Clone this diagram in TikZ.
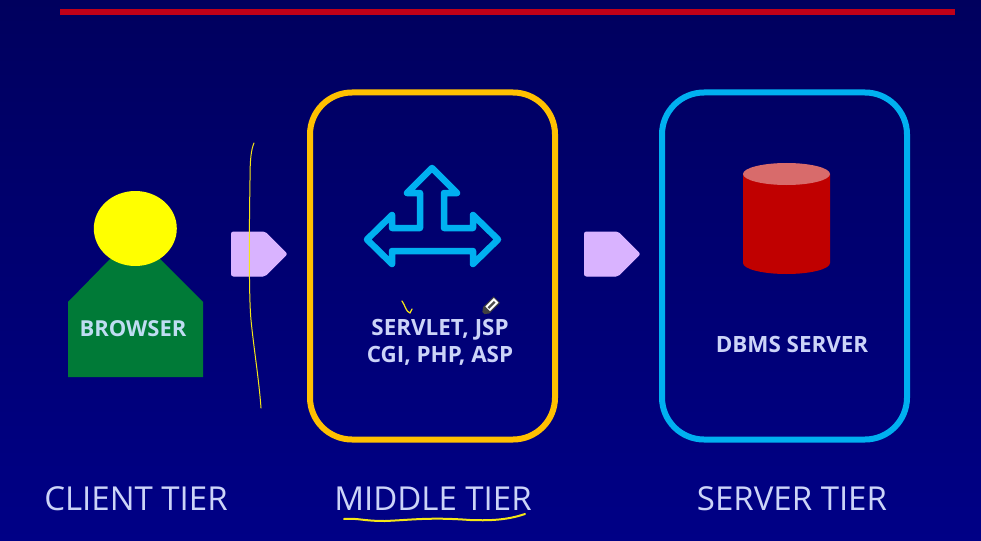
\documentclass[tikz,border=0pt]{standalone}
\usepackage{fontspec}
\setmainfont{Open Sans}
\usetikzlibrary{shapes.geometric}
\definecolor{navytop}{HTML}{00005E}
\definecolor{navybot}{HTML}{000086}
\definecolor{orangebox}{HTML}{FFC000}
\definecolor{cyanbox}{HTML}{00B0F0}
\definecolor{lilac}{HTML}{D9B3FF}
\definecolor{greenbody}{HTML}{007A37}
\definecolor{labelblue}{HTML}{CCD4F8}
\definecolor{browserblue}{HTML}{BFDDF2}
\definecolor{redbar}{HTML}{C00018}
\definecolor{redcyl}{HTML}{C00000}
\definecolor{redtop}{HTML}{D86B6B}
\definecolor{ink}{HTML}{F5E616}
\definecolor{headyellow}{HTML}{FFFF00}
\tikzset{
  tierbox/.style={line width=6pt,rounded corners=42pt},
  pentagonarrow/.style={fill=lilac,draw=lilac,line width=1pt,rounded corners=2pt},
  boldlabel/.style={text=labelblue,font=\bfseries\fontsize{22.4}{27}\selectfont,align=center,inner sep=0pt},
  tierlabel/.style={text=labelblue,font=\fontsize{33}{36}\selectfont,inner sep=0pt},
  inkline/.style={draw=ink,line cap=round,line join=round},
}
\begin{document}
\begin{tikzpicture}[x=1pt,y=-1pt]
\useasboundingbox (0,0) rectangle (981,540);
\shade[top color=navytop,bottom color=navybot] (0,0) rectangle (981,540);
% top rule
\fill[redbar] (60,9) rectangle (955,15);
% client
\fill[greenbody] (68,302) -- (110,259) -- (160,259) -- (203,302) -- (203,377) -- (68,377) -- cycle;
\fill[headyellow] (135.3,228.5) ellipse [x radius=41.5,y radius=37.5];
\node[boldlabel,text=browserblue,font=\bfseries\fontsize{22}{27}\selectfont] (browser) at (133,328.5) {BROWSER};
% arrows
\draw[pentagonarrow] (231.5,232) -- (265,232) -- (287,254) -- (265,276) -- (231.5,276) -- cycle;
\draw[pentagonarrow] (584.5,232) -- (618,232) -- (640,254) -- (618,276) -- (584.5,276) -- cycle;
% tier boxes
\draw[tierbox,orangebox] (310,92.5) rectangle (555,439.5);
\draw[tierbox,cyanbox] (662,92.5) rectangle (907,439.5);
% three-way arrow icon
\draw[cyanbox,line width=6.5pt,line join=round]
  (432,168) -- (457,193) -- (444,193) -- (444,228) -- (473,228) -- (473,215) -- (498,239.5)
  -- (473,264) -- (473,251) -- (392,251) -- (392,264) -- (367,239.5) -- (392,215)
  -- (392,228) -- (420,228) -- (420,193) -- (407,193) -- cycle;
\node[boldlabel] (mid) at (440,342) {SERVLET, JSP\\CGI, PHP, ASP};
% cylinder
\fill[redcyl] (743,174) -- (743,263) arc[start angle=180,end angle=360,x radius=43.5,y radius=-11] -- (830,174) -- cycle;
\fill[redtop] (786.5,174) ellipse [x radius=43.5,y radius=11];
\node[boldlabel] (dbms) at (792,344) {DBMS SERVER};
% tier captions
\node[tierlabel] (client) at (136,499) {CLIENT TIER};
\node[tierlabel] (middle) at (433,499) {MIDDLE TIER};
\node[tierlabel] (server) at (792,499) {SERVER TIER};
% pen marks
\draw[inkline,line width=1pt] (254,143) .. controls (251,150) and (250,160) .. (250,180)
  .. controls (249,240) and (249,300) .. (251,320) .. controls (254,350) and (259,380) .. (261,408);
\draw[inkline,line width=1.2pt] (402,301) .. controls (405,305) and (406,312) .. (410,313) -- (412,309);
\draw[inkline,line width=2pt] (344,519) .. controls (360,518) and (362,521) .. (385,521)
  .. controls (410,520) and (430,517) .. (470,520) .. controls (495,521) and (510,519) .. (525,514);
% pen cursor
\begin{scope}[shift={(490.5,306)},rotate=-45]
\fill[black!75] (-4.5,-9) rectangle (4.5,6) -- (4.5,6) -- (1.5,10) -- (-1.5,10) -- (-4.5,6) -- cycle;
\fill[white] (-3.3,-8) rectangle (3.3,4);
\fill[black!70] (-1.2,-6) rectangle (1.2,3);
\end{scope}
\end{tikzpicture}
\end{document}
